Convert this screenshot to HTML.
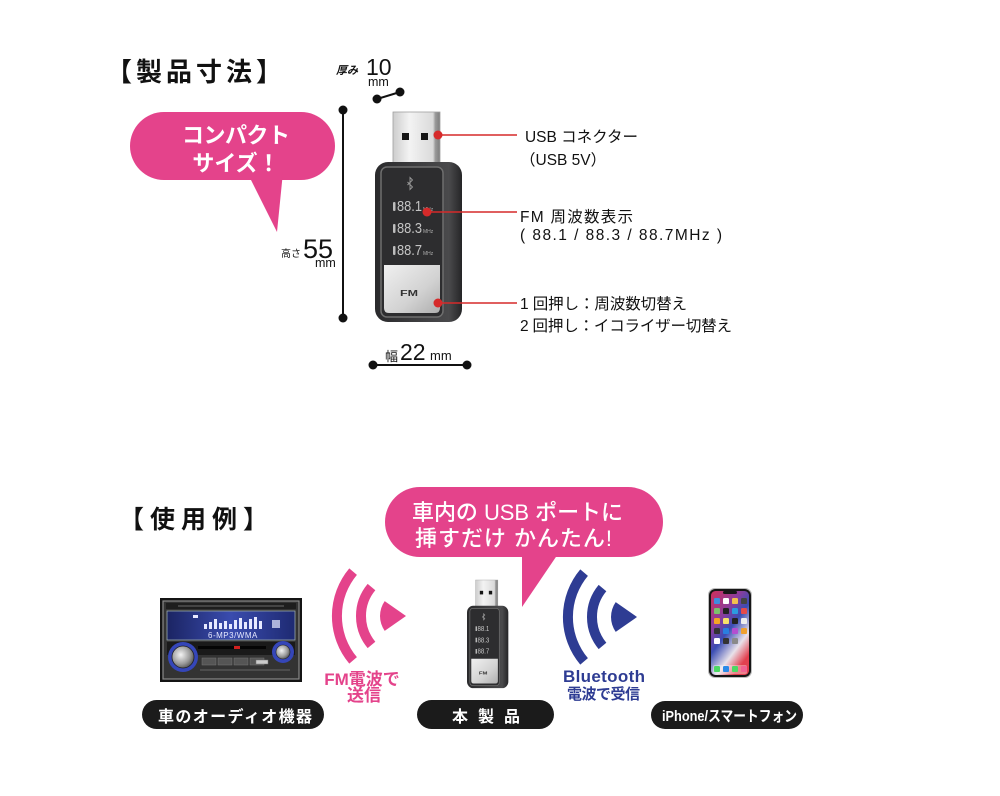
<!DOCTYPE html>
<html><head><meta charset="utf-8">
<style>
html,body{margin:0;padding:0;background:#fff;width:1000px;height:796px;overflow:hidden;}
svg{display:block;}
text{font-family:"Liberation Sans","Noto Sans CJK JP",sans-serif;}
</style></head>
<body>
<svg width="1000" height="796" viewBox="0 0 1000 796" xmlns="http://www.w3.org/2000/svg">
<defs>
 <linearGradient id="plug" x1="0" x2="1" y1="0" y2="0">
  <stop offset="0" stop-color="#cdcdcd"/><stop offset="0.35" stop-color="#f3f3f3"/><stop offset="0.85" stop-color="#dadada"/><stop offset="0.9" stop-color="#9a9a9a"/><stop offset="1" stop-color="#7d7d7d"/>
 </linearGradient>
 <linearGradient id="body" x1="0" x2="1" y1="0" y2="0">
  <stop offset="0" stop-color="#2a2a2c"/><stop offset="0.4" stop-color="#3a3a3c"/><stop offset="0.85" stop-color="#4a4a4c"/><stop offset="1" stop-color="#252527"/>
 </linearGradient>
 <linearGradient id="btn" x1="0" y1="0" x2="1" y2="1">
  <stop offset="0" stop-color="#f0f0f0"/><stop offset="0.6" stop-color="#d2d2d2"/><stop offset="1" stop-color="#aeaeae"/>
 </linearGradient>
 <linearGradient id="lcd" x1="0" x2="1" y1="0" y2="0">
  <stop offset="0" stop-color="#1b2463"/><stop offset="0.5" stop-color="#3a4cae"/><stop offset="1" stop-color="#1e2a72"/>
 </linearGradient>
 <radialGradient id="knob" cx="0.4" cy="0.4" r="0.7">
  <stop offset="0" stop-color="#f4f4f4"/><stop offset="0.6" stop-color="#9a9a9a"/><stop offset="1" stop-color="#444"/>
 </radialGradient>
 <linearGradient id="scr" x1="0" y1="0" x2="0.6" y2="1">
  <stop offset="0" stop-color="#d02f5c"/><stop offset="0.35" stop-color="#8a3d9c"/><stop offset="0.55" stop-color="#3a4db4"/><stop offset="0.8" stop-color="#e9e2ea"/><stop offset="1" stop-color="#e2404f"/>
 </linearGradient>
</defs>

<!-- ===== TOP SECTION ===== -->
<text x="106" y="81" font-size="26" font-weight="700" letter-spacing="4" fill="#111">【製品寸法】</text>

<!-- bubble 1 -->
<rect x="130" y="112" width="205" height="68" rx="34" fill="#e4438b"/>
<polygon points="247,172 283,172 277,232" fill="#e4438b"/>
<text x="236" y="143" font-size="22" font-weight="700" fill="#fff" text-anchor="middle" textLength="108" lengthAdjust="spacing">コンパクト</text>
<text x="236" y="171" font-size="22" font-weight="700" fill="#fff" text-anchor="middle">サイズ！</text>

<!-- thickness -->
<text x="336" y="74" font-size="11" font-weight="700" font-style="italic" fill="#111">厚み</text>
<text x="366" y="75" font-size="23" fill="#111">10</text>
<text x="368" y="86" font-size="12.5" fill="#111">mm</text>
<line x1="377" y1="99" x2="400" y2="92" stroke="#111" stroke-width="2"/>
<circle cx="377" cy="99" r="4.5" fill="#111"/>
<circle cx="400" cy="92" r="4.5" fill="#111"/>

<!-- height -->
<line x1="343" y1="110" x2="343" y2="318" stroke="#111" stroke-width="2"/>
<circle cx="343" cy="110" r="4.5" fill="#111"/>
<circle cx="343" cy="318" r="4.5" fill="#111"/>
<text x="281" y="257" font-size="10" fill="#111">高さ</text>
<text x="303" y="258" font-size="27" fill="#111">55</text>
<text x="315" y="267" font-size="12.5" fill="#111">mm</text>

<!-- width -->
<line x1="373" y1="365" x2="467" y2="365" stroke="#111" stroke-width="2"/>
<circle cx="373" cy="365" r="4.5" fill="#111"/>
<circle cx="467" cy="365" r="4.5" fill="#111"/>
<text x="385" y="361" font-size="13" fill="#111">幅</text>
<text x="400" y="360" font-size="23" fill="#111">22</text>
<text x="430" y="360" font-size="13" fill="#111">mm</text>

<!-- top device -->
<g transform="translate(375,112)">
 <rect x="18" y="0" width="47" height="56" fill="url(#plug)" stroke="#a0a0a0" stroke-width="0.8"/>
 <rect x="27" y="21" width="7" height="7" fill="#151515"/>
 <rect x="46" y="21" width="7" height="7" fill="#151515"/>
 <rect x="0" y="50" width="87" height="160" rx="13" fill="url(#body)"/>
 <rect x="6" y="55" width="62" height="150" rx="6" fill="#2d2d2f" stroke="#6e6e6e" stroke-width="1.5"/>
 <path d="M9,153 H65 V196 Q65,201 60,201 H14 Q9,201 9,196 Z" fill="url(#btn)"/>
 <path d="M32.5,70 L37.5,75 L35,77.5 V65.5 L37.5,68 L32.5,73" fill="none" stroke="#9a9a9a" stroke-width="0.9"/>
 <rect x="18" y="90" width="2.5" height="9" rx="1" fill="#bcbcbc"/>
 <text x="22" y="99" font-size="15" fill="#c4c4c4" textLength="25" lengthAdjust="spacingAndGlyphs">88.1</text>
 <text x="48" y="99" font-size="5" fill="#aaa">MHz</text>
 <rect x="18" y="112" width="2.5" height="9" rx="1" fill="#bcbcbc"/>
 <text x="22" y="121" font-size="15" fill="#c4c4c4" textLength="25" lengthAdjust="spacingAndGlyphs">88.3</text>
 <text x="48" y="121" font-size="5" fill="#aaa">MHz</text>
 <rect x="18" y="134" width="2.5" height="9" rx="1" fill="#bcbcbc"/>
 <text x="22" y="143" font-size="15" fill="#c4c4c4" textLength="25" lengthAdjust="spacingAndGlyphs">88.7</text>
 <text x="48" y="143" font-size="5" fill="#aaa">MHz</text>
 <text x="25" y="184" font-size="8" font-weight="700" fill="#333" textLength="18" lengthAdjust="spacingAndGlyphs">FM</text>
</g>

<!-- red callouts -->
<g stroke="#d62a2a" stroke-width="1.6">
 <line x1="438" y1="135" x2="517" y2="135"/>
 <line x1="427" y1="212" x2="517" y2="212"/>
 <line x1="438" y1="303" x2="517" y2="303"/>
</g>
<g fill="#d62a2a">
 <circle cx="438" cy="135" r="4.5"/>
 <circle cx="427" cy="212" r="4.5"/>
 <circle cx="438" cy="303" r="4.5"/>
</g>

<g fill="#111">
 <text x="525" y="142" font-size="15.5" textLength="113" lengthAdjust="spacing">USB コネクター</text>
 <text x="520" y="165" font-size="15.5">（USB 5V）</text>
 <text x="520" y="222" font-size="15.5" textLength="113" lengthAdjust="spacing">FM 周波数表示</text>
 <text x="520" y="240" font-size="15.5" textLength="202" lengthAdjust="spacing">( 88.1 / 88.3 / 88.7MHz )</text>
 <text x="520" y="309" font-size="15.5" textLength="167" lengthAdjust="spacing">1 回押し：周波数切替え</text>
 <text x="520" y="331" font-size="15.5" textLength="212" lengthAdjust="spacing">2 回押し：イコライザー切替え</text>
</g>

<!-- ===== BOTTOM SECTION ===== -->
<text x="119" y="528" font-size="25" font-weight="700" letter-spacing="6" fill="#111">【使用例】</text>

<!-- bubble 2 -->
<rect x="385" y="487" width="278" height="70" rx="35" fill="#e4438b"/>
<polygon points="522,548 562,548 522,607" fill="#e4438b"/>
<text x="412" y="520" font-size="22" font-weight="500" fill="#fff" textLength="211" lengthAdjust="spacing">車内の USB ポートに</text>
<text x="415" y="546" font-size="22" font-weight="500" fill="#fff" textLength="197" lengthAdjust="spacing">挿すだけ かんたん!</text>

<!-- car stereo -->
<g transform="translate(160,598)">
 <rect x="0" y="0" width="142" height="84" fill="#141414"/>
 <rect x="3" y="3" width="136" height="78" fill="#333" stroke="#8a8a8a" stroke-width="1.2"/>
 <rect x="6" y="5" width="130" height="6" fill="#1e1e1e"/>
 <line x1="18" y1="8" x2="124" y2="8" stroke="#6a6a6a" stroke-width="1"/>
 <rect x="7" y="13" width="128" height="29" fill="url(#lcd)" stroke="#9aa" stroke-width="0.8"/>
 <rect x="33" y="17" width="5" height="3" fill="#e8e8ff"/>
 <g fill="#e6e9ff">
  <rect x="44" y="26" width="3" height="5"/><rect x="49" y="24" width="3" height="7"/><rect x="54" y="21" width="3" height="10"/>
  <rect x="59" y="25" width="3" height="6"/><rect x="64" y="23" width="3" height="8"/><rect x="69" y="26" width="3" height="5"/>
  <rect x="74" y="22" width="3" height="9"/><rect x="79" y="20" width="3" height="11"/><rect x="84" y="24" width="3" height="7"/>
  <rect x="89" y="21" width="3" height="10"/><rect x="94" y="19" width="3" height="12"/><rect x="99" y="23" width="3" height="8"/>
  <rect x="112" y="22" width="8" height="8" opacity="0.7"/>
 </g>
 <text x="48" y="40" font-size="8" fill="#e6e9ff" letter-spacing="0.5">6-MP3/WMA</text>
 <rect x="7" y="44" width="128" height="13" fill="#1a1a1a"/>
 <rect x="38" y="48" width="68" height="3" fill="#050505"/>
 <rect x="74" y="48" width="6" height="3" fill="#d02020"/>
 <g fill="#555" stroke="#777" stroke-width="0.5">
  <rect x="42" y="60" width="14" height="7"/><rect x="58" y="60" width="14" height="7"/><rect x="74" y="60" width="14" height="7"/><rect x="90" y="60" width="14" height="7"/>
  <rect x="96" y="62" width="12" height="4" fill="#ccc"/>
 </g>
 <line x1="40" y1="72" x2="130" y2="72" stroke="#777" stroke-width="0.8"/>
 <circle cx="23" cy="59" r="15" fill="#3546b8"/>
 <circle cx="23" cy="59" r="11" fill="url(#knob)" stroke="#222" stroke-width="0.8"/>
 <circle cx="123" cy="54" r="11" fill="#3546b8"/>
 <circle cx="123" cy="54" r="7" fill="url(#knob)" stroke="#222" stroke-width="0.6"/>
</g>

<!-- FM waves (pink) -->
<g fill="none" stroke="#e4438b" stroke-width="10">
 <path d="M353.1,571.6 A69,69 0 0 0 353.1,660.4"/>
 <path d="M371.5,587.1 A45,45 0 0 0 371.5,644.9"/>
</g>
<path d="M406,616 L384.7,601.1 A26,26 0 0 0 384.7,630.9 Z" fill="#e4438b"/>
<text x="362" y="685" font-size="17" font-weight="700" fill="#e4438b" text-anchor="middle">FM電波で</text>
<text x="364" y="701" font-size="17" font-weight="700" fill="#e4438b" text-anchor="middle">送信</text>

<!-- bottom device -->
<g transform="translate(467,580) scale(0.475,0.515)">
 <rect x="18" y="0" width="47" height="56" fill="url(#plug)" stroke="#a0a0a0" stroke-width="0.8"/>
 <rect x="27" y="21" width="7" height="7" fill="#151515"/>
 <rect x="46" y="21" width="7" height="7" fill="#151515"/>
 <rect x="0" y="50" width="87" height="160" rx="13" fill="url(#body)"/>
 <rect x="6" y="55" width="62" height="150" rx="6" fill="#2d2d2f" stroke="#6e6e6e" stroke-width="1.5"/>
 <path d="M9,153 H65 V196 Q65,201 60,201 H14 Q9,201 9,196 Z" fill="url(#btn)"/>
 <path d="M32.5,70 L37.5,75 L35,77.5 V65.5 L37.5,68 L32.5,73" fill="none" stroke="#9a9a9a" stroke-width="1.4"/>
 <rect x="18" y="90" width="3" height="9" fill="#bcbcbc"/>
 <text x="22" y="99" font-size="15" fill="#c4c4c4" textLength="25" lengthAdjust="spacingAndGlyphs">88.1</text>
 <rect x="18" y="112" width="3" height="9" fill="#bcbcbc"/>
 <text x="22" y="121" font-size="15" fill="#c4c4c4" textLength="25" lengthAdjust="spacingAndGlyphs">88.3</text>
 <rect x="18" y="134" width="3" height="9" fill="#bcbcbc"/>
 <text x="22" y="143" font-size="15" fill="#c4c4c4" textLength="25" lengthAdjust="spacingAndGlyphs">88.7</text>
 <text x="25" y="184" font-size="9" font-weight="700" fill="#333" textLength="18" lengthAdjust="spacingAndGlyphs">FM</text>
</g>

<!-- Bluetooth waves (blue) -->
<g fill="none" stroke="#2e3c93" stroke-width="10">
 <path d="M584.1,572.6 A69,69 0 0 0 584.1,661.4"/>
 <path d="M602.5,588.1 A45,45 0 0 0 602.5,645.9"/>
</g>
<path d="M637,617 L615.7,602.1 A26,26 0 0 0 615.7,631.9 Z" fill="#2e3c93"/>
<text x="563" y="682" font-size="17" font-weight="700" fill="#2e3c93" textLength="82" lengthAdjust="spacing">Bluetooth</text>
<text x="567" y="699" font-size="15" font-weight="700" fill="#2e3c93" textLength="73" lengthAdjust="spacing">電波で受信</text>

<!-- phone -->
<g transform="translate(708,588)">
 <rect x="0" y="0" width="44" height="90" rx="7" fill="#bdbdbd"/>
 <rect x="1" y="1" width="42" height="88" rx="6.5" fill="#161616"/>
 <rect x="3" y="3" width="38" height="84" rx="4.5" fill="url(#scr)"/>
 <rect x="15" y="3" width="14" height="3" rx="1.5" fill="#161616"/>
 <g>
  <rect x="6" y="10" width="6" height="6" rx="1.3" fill="#3d8ee0"/><rect x="15" y="10" width="6" height="6" rx="1.3" fill="#fff"/><rect x="24" y="10" width="6" height="6" rx="1.3" fill="#f2c14e"/><rect x="33" y="10" width="6" height="6" rx="1.3" fill="#444"/>
  <rect x="6" y="20" width="6" height="6" rx="1.3" fill="#7cc36b"/><rect x="15" y="20" width="6" height="6" rx="1.3" fill="#222"/><rect x="24" y="20" width="6" height="6" rx="1.3" fill="#2b9be0"/><rect x="33" y="20" width="6" height="6" rx="1.3" fill="#e54b4b"/>
  <rect x="6" y="30" width="6" height="6" rx="1.3" fill="#f5a623"/><rect x="15" y="30" width="6" height="6" rx="1.3" fill="#f8e36b"/><rect x="24" y="30" width="6" height="6" rx="1.3" fill="#222"/><rect x="33" y="30" width="6" height="6" rx="1.3" fill="#eee"/>
  <rect x="6" y="40" width="6" height="6" rx="1.3" fill="#333"/><rect x="15" y="40" width="6" height="6" rx="1.3" fill="#2a7fe0"/><rect x="24" y="40" width="6" height="6" rx="1.3" fill="#b34fd1"/><rect x="33" y="40" width="6" height="6" rx="1.3" fill="#f0a030"/>
  <rect x="6" y="50" width="6" height="6" rx="1.3" fill="#fff"/><rect x="15" y="50" width="6" height="6" rx="1.3" fill="#333"/><rect x="24" y="50" width="6" height="6" rx="1.3" fill="#8a8a8a"/>
  <rect x="5" y="77" width="34" height="9" rx="2" fill="#ffffff" opacity="0.35"/>
  <rect x="6" y="78" width="6" height="6" rx="1.3" fill="#4cd964"/><rect x="15" y="78" width="6" height="6" rx="1.3" fill="#2a8ae8"/><rect x="24" y="78" width="6" height="6" rx="1.3" fill="#4cd964"/><rect x="33" y="78" width="6" height="6" rx="1.3" fill="#f06292"/>
 </g>
</g>

<!-- label pills -->
<rect x="142" y="700" width="182" height="29" rx="14.5" fill="#1b1b1b"/>
<text x="158" y="722" font-size="16" font-weight="700" fill="#fff" textLength="154" lengthAdjust="spacing">車のオーディオ機器</text>
<rect x="417" y="700" width="137" height="29" rx="14.5" fill="#1b1b1b"/>
<text x="452" y="722" font-size="16" font-weight="700" fill="#fff" textLength="68" lengthAdjust="spacing">本製品</text>
<rect x="651" y="701" width="152" height="28" rx="14" fill="#1b1b1b"/>
<text x="662" y="721" font-size="15" font-weight="700" fill="#fff" textLength="135" lengthAdjust="spacingAndGlyphs">iPhone/スマートフォン</text>
</svg>
</body></html>
